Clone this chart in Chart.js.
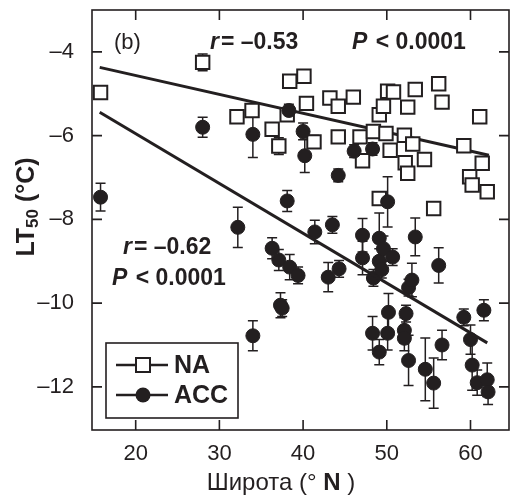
<!DOCTYPE html>
<html>
<head>
<meta charset="utf-8">
<script src="https://cdn.jsdelivr.net/npm/chart.js@4.4.1/dist/chart.umd.min.js"></script>
<style>
  html, body { margin: 0; padding: 0; background: #fff; overflow: hidden; }
  canvas { display: block; }
</style>
</head>
<body>
<canvas id="ltChart" width="510" height="497"></canvas>
<script>
// NA populations (open squares)
const naLat  = [15.8, 28.0, 32.1, 33.9, 36.3, 37.1, 38.4, 38.1, 40.1, 40.4, 41.3, 43.2, 44.2, 44.2, 46.0,
                46.8, 47.1, 48.4, 49.1, 49.6, 49.9, 50.1, 50.4, 50.8, 52.1, 52.5, 53.1, 52.2, 52.5, 53.4,
                54.5, 56.2, 56.6, 59.2, 61.1, 61.4, 59.9, 60.2, 62.0, 49.1, 55.6];
const naLT50 = [-4.97, -4.25, -5.55, -5.4, -5.85, -6.25, -4.7, -5.5, -4.58, -5.23, -6.15, -5.1, -5.3, -6.03, -5.08,
                -6.03, -6.6, -5.9, -5.5, -5.3, -5.95, -4.94, -6.35, -4.96, -5.99, -5.32, -6.2, -6.65, -6.9, -4.9,
                -6.57, -4.76, -5.2, -6.24, -5.55, -6.66, -6.98, -7.18, -7.34, -7.5, -7.74];
const naErr  = [0.12, 0.2, 0.15, 0.15, 0.15, 0.2, 0.1, 0.15, 0.1, 0.1, 0.15, 0.1, 0.1, 0.12, 0.1,
                0.1, 0.1, 0.15, 0.15, 0.1, 0.1, 0.15, 0.1, 0.1, 0.1, 0.1, 0.1, 0.1, 0.1, 0.1,
                0.1, 0.15, 0.1, 0.1, 0.1, 0.1, 0.1, 0.1, 0.1, 0.15, 0.15];

// ACC populations (filled circles)
const accLat  = [15.8, 28.0, 32.2, 34.0, 34.0, 36.3, 37.1, 37.3, 37.5, 38.1, 38.3, 38.4, 39.4, 40.0, 40.2,
                 41.4, 43.0, 43.5, 44.2, 44.3, 46.1, 47.1, 47.1, 48.3, 48.4, 48.3, 49.1, 49.1, 49.1, 49.4,
                 49.6, 50.1, 50.1, 50.2, 50.7, 52.1, 52.1, 52.3, 52.6, 52.6, 53.0, 53.4, 54.6, 55.6, 56.2,
                 56.6, 59.2, 60.0, 60.2, 60.8, 61.6, 62.0, 62.1];
const accLT50 = [-7.47, -5.8, -8.19, -5.97, -10.78, -8.69, -8.97, -10.05, -10.12, -7.56, -5.4, -9.14, -9.34, -5.9, -6.48,
                 -8.3, -9.38, -8.13, -6.95, -9.18, -6.37, -8.38, -8.92, -10.72, -9.4, -6.32, -8.45, -9.0, -11.17, -9.2,
                 -8.7, -7.58, -10.72, -10.22, -8.9, -10.65, -10.84, -10.25, -11.37, -9.63, -9.45, -8.42, -11.58, -11.91, -9.1,
                 -11.0, -10.34, -10.87, -11.48, -11.9, -10.17, -11.83, -12.12];
const accErr  = [0.33, 0.24, 0.48, 0.55, 0.36, 0.25, 0.25, 0.3, 0.2, 0.25, 0.15, 0.3, 0.2, 0.2, 0.4,
                 0.28, 0.35, 0.2, 0.15, 0.2, 0.15, 0.4, 0.4, 0.4, 0.2, 0.15, 0.6, 0.3, 0.3, 0.2,
                 0.3, 0.6, 0.4, 0.45, 0.2, 0.3, 0.3, 0.2, 0.6, 0.2, 0.4, 0.45, 0.75, 0.6, 0.42,
                 0.35, 0.2, 0.35, 0.6, 0.3, 0.25, 0.4, 0.3];

// regression lines (end points)
const naFitLat  = [15.7, 62.2];
const naFitLT   = [-4.37, -6.47];
const accFitLat = [15.7, 62.0];
const accFitLT  = [-5.44, -10.95];

const xTickValues = [20, 30, 40, 50, 60];
const yTickValues = [-12, -10, -8, -6, -4];

const INK = '#231f20';
const FONT = '"Liberation Sans", Arial, sans-serif';

function toPoints(xs, ys) {
  return xs.map((x, i) => ({ x: x, y: ys[i] }));
}

// error bars, drawn under the markers
const errorBars = {
  id: 'errorBars',
  beforeDatasetsDraw(chart) {
    const ctx = chart.ctx;
    const xs = chart.scales.x, ys = chart.scales.y;
    const sets = [[naLat, naLT50, naErr], [accLat, accLT50, accErr]];
    ctx.save();
    ctx.strokeStyle = INK;
    ctx.lineWidth = 1.5;
    sets.forEach(s => {
      s[0].forEach((lat, i) => {
        const px = xs.getPixelForValue(lat);
        const top = ys.getPixelForValue(s[1][i] + s[2][i]);
        const bot = ys.getPixelForValue(s[1][i] - s[2][i]);
        ctx.beginPath();
        ctx.moveTo(px, top); ctx.lineTo(px, bot);
        ctx.moveTo(px - 5, top); ctx.lineTo(px + 5, top);
        ctx.moveTo(px - 5, bot); ctx.lineTo(px + 5, bot);
        ctx.stroke();
      });
    });
    ctx.restore();
  }
};

// frame, inward ticks, annotations, legend box and axis titles
const decorations = {
  id: 'decorations',
  afterDraw(chart) {
    const ctx = chart.ctx;
    const a = chart.chartArea;
    const xs = chart.scales.x, ys = chart.scales.y;
    ctx.save();
    ctx.strokeStyle = INK;
    ctx.lineWidth = 1.6;
    ctx.strokeRect(a.left, a.top, a.right - a.left, a.bottom - a.top);
    ctx.beginPath();
    xTickValues.forEach(v => {
      const px = xs.getPixelForValue(v);
      ctx.moveTo(px, a.bottom); ctx.lineTo(px, a.bottom - 10);
      ctx.moveTo(px, a.top); ctx.lineTo(px, a.top + 10);
    });
    yTickValues.forEach(v => {
      const py = ys.getPixelForValue(v);
      ctx.moveTo(a.left, py); ctx.lineTo(a.left + 10, py);
      ctx.moveTo(a.right, py); ctx.lineTo(a.right - 10, py);
    });
    ctx.stroke();

    ctx.fillStyle = INK;
    ctx.textBaseline = 'middle';
    ctx.textAlign = 'left';

    ctx.font = '22px ' + FONT;
    ctx.fillText('(b)', 114, 43);

    // r and P texts
    function stat(x, y, letter, rest) {
      ctx.font = 'italic bold 23px ' + FONT;
      ctx.fillText(letter, x, y);
      const w = ctx.measureText(letter).width;
      ctx.font = 'bold 23px ' + FONT;
      ctx.fillText(rest, x + w + 2, y);
    }
    stat(210, 43, 'r', '= \u20130.53');
    stat(352, 43, 'P', ' < 0.0001');
    stat(123, 248, 'r', '= \u20130.62');
    stat(112, 279, 'P', ' < 0.0001');

    // legend
    ctx.lineWidth = 1.6;
    ctx.strokeRect(106, 343, 132, 75);
    const rows = [['NA', 365, 'rect'], ['ACC', 395, 'circle']];
    rows.forEach(r => {
      ctx.lineWidth = 2.5;
      ctx.beginPath();
      ctx.moveTo(116, r[1]); ctx.lineTo(168, r[1]);
      ctx.stroke();
      ctx.lineWidth = 1.6;
      if (r[2] === 'rect') {
        ctx.fillStyle = '#fff';
        ctx.fillRect(136, r[1] - 7, 14, 14);
        ctx.lineWidth = 2;
        ctx.strokeRect(136, r[1] - 7, 14, 14);
      } else {
        ctx.fillStyle = INK;
        ctx.beginPath();
        ctx.arc(143, r[1], 7.5, 0, Math.PI * 2);
        ctx.fill();
      }
      ctx.fillStyle = INK;
      ctx.font = 'bold 25px ' + FONT;
      ctx.fillText(r[0], 174, r[1] + 1);
    });

    // x axis title
    ctx.textAlign = 'left';
    ctx.font = '24px ' + FONT;
    const p1 = 'Широта (° ', p2 = 'N', p3 = ' )';
    const w1 = ctx.measureText(p1).width, w3 = ctx.measureText(p3).width;
    ctx.font = 'bold 24px ' + FONT;
    const w2 = ctx.measureText(p2).width;
    let sx = 281 - (w1 + w2 + w3) / 2;
    ctx.font = '24px ' + FONT;
    ctx.fillText(p1, sx, 483);
    ctx.font = 'bold 24px ' + FONT;
    ctx.fillText(p2, sx + w1, 483);
    ctx.font = '24px ' + FONT;
    ctx.fillText(p3, sx + w1 + w2, 483);

    // y axis title with subscript
    ctx.translate(27, 207);
    ctx.rotate(-Math.PI / 2);
    ctx.font = 'bold 25px ' + FONT;
    const t1 = 'LT', t3 = ' (°C)';
    const tw1 = ctx.measureText(t1).width, tw3 = ctx.measureText(t3).width;
    ctx.font = 'bold 17px ' + FONT;
    const tw2 = ctx.measureText('50').width;
    let ty = -(tw1 + tw2 + tw3) / 2;
    ctx.font = 'bold 25px ' + FONT;
    ctx.fillText(t1, ty, 0);
    ctx.font = 'bold 17px ' + FONT;
    ctx.fillText('50', ty + tw1, 6);
    ctx.font = 'bold 25px ' + FONT;
    ctx.fillText(t3, ty + tw1 + tw2, 0);
    ctx.restore();
  }
};

const ctx = document.getElementById('ltChart').getContext('2d');
const ltChart = new Chart(ctx, {
  type: 'scatter',
  data: {
    datasets: [
      {
        label: 'ACC fit',
        type: 'line',
        data: toPoints(accFitLat, accFitLT),
        borderColor: INK,
        borderWidth: 3,
        pointRadius: 0,
        order: 0
      },
      {
        label: 'ACC',
        data: toPoints(accLat, accLT50),
        pointStyle: 'circle',
        pointRadius: 7,
        backgroundColor: INK,
        borderColor: INK,
        borderWidth: 1,
        order: 1
      },
      {
        label: 'NA',
        data: toPoints(naLat, naLT50),
        pointStyle: 'rect',
        pointRadius: 9.5,
        backgroundColor: '#fff',
        borderColor: INK,
        borderWidth: 2,
        order: 2
      },
      {
        label: 'NA fit',
        type: 'line',
        data: toPoints(naFitLat, naFitLT),
        borderColor: INK,
        borderWidth: 3,
        pointRadius: 0,
        order: 3
      }
    ]
  },
  options: {
    responsive: false,
    animation: false,
    layout: { autoPadding: false, padding: { top: 10, right: 1, left: 0, bottom: 0 } },
    scales: {
      x: {
        type: 'linear',
        min: 14.78,
        max: 64.6,
        grid: { display: false },
        border: { display: false },
        afterFit: s => { s.height = 67; s.paddingLeft = 0; s.paddingRight = 0; },
        afterBuildTicks: s => { s.ticks = xTickValues.map(v => ({ value: v })); },
        ticks: {
          color: INK,
          padding: 3,
          font: { family: FONT, size: 22 }
        }
      },
      y: {
        type: 'linear',
        min: -13.03,
        max: -3.0,
        grid: { display: false },
        border: { display: false },
        afterFit: s => { s.width = 92; s.paddingTop = 0; s.paddingBottom = 0; },
        afterBuildTicks: s => { s.ticks = yTickValues.map(v => ({ value: v })); },
        ticks: {
          color: INK,
          padding: 10,
          font: { family: FONT, size: 22 },
          callback: v => String(v).replace('-', '\u2013')
        }
      }
    },
    plugins: {
      legend: { display: false },
      tooltip: { enabled: false }
    }
  },
  plugins: [errorBars, decorations]
});
</script>
</body>
</html>
